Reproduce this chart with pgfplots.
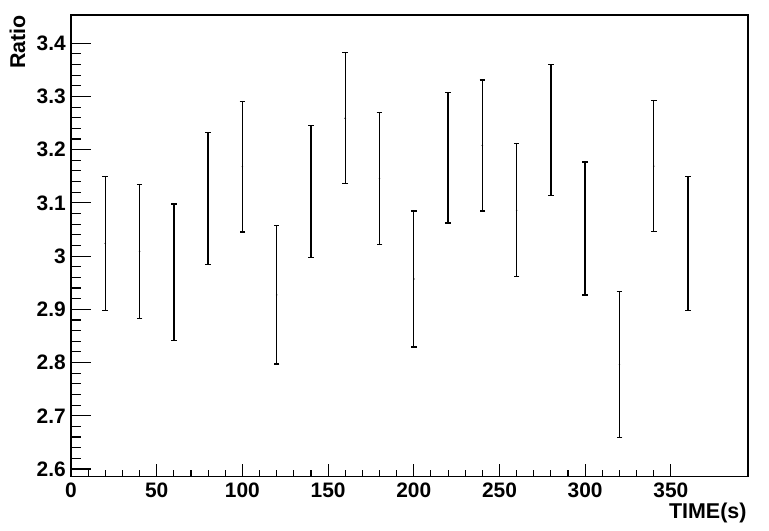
\documentclass[border=0pt]{standalone}
\usepackage{fontspec}
\setmainfont{Liberation Sans}
\usepackage{pgfplots}
\pgfplotsset{compat=1.18}

\pgfplotstableread{
t    ratio  err
20   3.024  0.126
40   3.009  0.126
60   2.970  0.128
80   3.108  0.124
100  3.168  0.123
120  2.927  0.130
140  3.121  0.124
160  3.259  0.123
180  3.146  0.124
200  2.957  0.128
220  3.185  0.123
240  3.208  0.123
260  3.086  0.125
280  3.237  0.123
300  3.052  0.125
320  2.796  0.137
340  3.169  0.123
360  3.024  0.126
}\ratiodata

\pgfplotsset{
  rootframe/.style={
    scale only axis,
    width=677bp, height=461.7bp,
    at={(0,0)}, anchor=south west,
    xmin=0, xmax=395,
    ymin=2.5855, ymax=3.453,
    axis line style={line width=1.3bp},
    tick align=inside,
    tick pos=left,
    tick style={line width=1.1bp, black},
    /pgf/number format/assume math mode=true,
  },
}

\begin{document}
\begin{tikzpicture}
\useasboundingbox (-71bp,-54.3bp) rectangle (698bp,476.7bp);
% y ticks and data
\begin{axis}[
    rootframe,
    xtick=\empty,
    ytick={2.6,2.7,2.8,2.9,3.0,3.1,3.2,3.3,3.4},
    yticklabels={2.6,2.7,2.8,2.9,3,3.1,3.2,3.3,3.4},
    minor y tick num=4,
    major tick length=20bp, minor tick length=10bp,
    yticklabel style={inner sep=5bp, font=\bfseries\fontsize{21}{22}\selectfont},
    ylabel={Ratio},
    ylabel style={at={(rel axis cs:-0.0679,1)}, anchor=base east, inner sep=0pt,
        font=\bfseries\fontsize{21.5}{22}\selectfont},
]
\addplot[black, only marks, mark=*, mark size=0.5bp,
    error bars/.cd, y dir=both, y explicit,
    error bar style={line width=1.4bp, black},
    error mark=|, error mark options={line width=1.3bp, mark size=2.8bp, black}]
    table[x=t, y=ratio, y error=err] {\ratiodata};
\end{axis}
% x ticks
\begin{axis}[
    rootframe,
    ytick=\empty,
    xtick={0,50,...,350},
    xticklabels={0,50,100,150,200,250,300,350},
    minor x tick num=4,
    major tick length=13bp, minor tick length=7bp,
    xticklabel style={inner sep=6bp, font=\bfseries\fontsize{21}{22}\selectfont},
    xlabel={TIME(s)},
    xlabel style={at={(rel axis cs:0.998,-0.0916)}, anchor=base east, inner sep=0pt,
        font=\bfseries\fontsize{21.5}{22}\selectfont},
]
\end{axis}
\end{tikzpicture}
\end{document}
